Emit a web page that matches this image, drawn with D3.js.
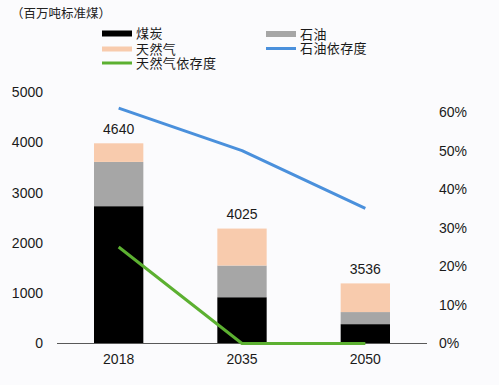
<!DOCTYPE html>
<html><head><meta charset="utf-8">
<script src="https://cdn.jsdelivr.net/npm/d3@7"></script>
<style>
body{margin:0;background:#fbfbfd;}
svg{display:block;}
</style></head>
<body>
<svg id="c" width="499" height="385"></svg>
<script>
const categories = ["2018", "2035", "2050"];
const coal = [2730, 920, 385];
const oil = [880, 630, 240];
const gas = [370, 735, 570];
const totalLabels = ["4640", "4025", "3536"];
const oilDependency = [0.61, 0.50, 0.35];
const gasDependency = [0.25, 0.0, 0.0];
const leftTicks = [0, 1000, 2000, 3000, 4000, 5000];
const rightTicks = [0, 0.1, 0.2, 0.3, 0.4, 0.5, 0.6];

const svg = d3.select("#c");
const numFont = "'Liberation Sans', Arial, sans-serif";
const cjkFont = "'Noto Sans CJK SC', sans-serif";

const x = d3.scaleBand().domain(categories).range([57, 427]).paddingInner(0.6).paddingOuter(0.3);
const yL = d3.scaleLinear().domain([0, 5000]).range([343.5, 92]);
const yR = d3.scaleLinear().domain([0, 0.6]).range([343.5, 112]);

const series = [
  {key: "coal", values: coal, color: "#000000"},
  {key: "oil", values: oil, color: "#a6a6a6"},
  {key: "gas", values: gas, color: "#f8cbad"}
];
const rows = categories.map((c, i) => ({cat: c, coal: coal[i], oil: oil[i], gas: gas[i]}));
const stack = d3.stack().keys(series.map(s => s.key))(rows);

stack.forEach((layer, li) => {
  svg.append("g").attr("fill", series[li].color)
    .selectAll("rect").data(layer).join("rect")
    .attr("x", d => x(d.data.cat))
    .attr("width", x.bandwidth())
    .attr("y", d => yL(d[1]))
    .attr("height", d => yL(d[0]) - yL(d[1]));
});

// total labels
svg.append("g").selectAll("text").data(categories).join("text")
  .attr("x", d => x(d) + x.bandwidth() / 2)
  .attr("y", (d, i) => yL(coal[i] + oil[i] + gas[i]) - 9.5)
  .attr("text-anchor", "middle")
  .attr("font-family", numFont).attr("font-size", 14).attr("fill", "#1a1a1a")
  .text((d, i) => totalLabels[i]);

// x axis baseline
svg.append("line").attr("x1", 57).attr("x2", 427).attr("y1", 343.5).attr("y2", 343.5)
  .attr("stroke", "#595959").attr("stroke-width", 1);

// left axis labels
const gL = svg.append("g").attr("transform", "translate(43,0)")
  .call(d3.axisLeft(yL).tickValues(leftTicks).tickSize(0).tickPadding(0).tickFormat(d3.format("d")));
gL.select(".domain").remove();
gL.selectAll("text").attr("font-family", numFont).attr("font-size", 14).attr("fill", "#1a1a1a");

// right axis labels
const gR = svg.append("g").attr("transform", "translate(439,0)")
  .call(d3.axisRight(yR).tickValues(rightTicks).tickSize(0).tickPadding(0).tickFormat(d3.format(".0%")));
gR.select(".domain").remove();
gR.selectAll("text").attr("font-family", numFont).attr("font-size", 14).attr("fill", "#1a1a1a");

// bottom axis labels
const gB = svg.append("g").attr("transform", "translate(0,343.5)")
  .call(d3.axisBottom(x).tickSize(0).tickPadding(11));
gB.select(".domain").remove();
gB.selectAll("text").attr("font-family", numFont).attr("font-size", 14).attr("fill", "#1a1a1a");

// lines
const cx = d => x(d) + x.bandwidth() / 2;
const line = d3.line().x(d => cx(d.c)).y(d => yR(d.v));
svg.append("path")
  .datum(categories.map((c, i) => ({c, v: oilDependency[i]})))
  .attr("d", line)
  .attr("fill", "none").attr("stroke", "#4a90dc").attr("stroke-width", 3).attr("stroke-linejoin", "round");
svg.append("path")
  .datum(categories.map((c, i) => ({c, v: gasDependency[i]})))
  .attr("d", line)
  .attr("fill", "none").attr("stroke", "#5cb031").attr("stroke-width", 3).attr("stroke-linejoin", "round");

// unit title
svg.append("text").attr("x", 11).attr("y", 17.5)
  .attr("font-family", cjkFont).attr("font-size", 12.5).attr("fill", "#222")
  .text("（百万吨标准煤）");

// legend
const legend = [
  {label: "煤炭", type: "rect", color: "#000000", x: 102, y: 33.5, h: 6},
  {label: "天然气", type: "rect", color: "#f8cbad", x: 102, y: 49, h: 5},
  {label: "天然气依存度", type: "line", color: "#5cb031", x: 102, y: 63},
  {label: "石油", type: "rect", color: "#a6a6a6", x: 266, y: 34, h: 6},
  {label: "石油依存度", type: "line", color: "#4a90dc", x: 266, y: 48.5}
];
const lg = svg.append("g");
legend.forEach(it => {
  if (it.type === "rect") {
    lg.append("rect").attr("x", it.x).attr("y", it.y - it.h / 2).attr("width", 30).attr("height", it.h).attr("fill", it.color);
  } else {
    lg.append("line").attr("x1", it.x).attr("x2", it.x + 30).attr("y1", it.y).attr("y2", it.y)
      .attr("stroke", it.color).attr("stroke-width", 3);
  }
  lg.append("text").attr("x", it.x + 34).attr("y", it.y).attr("dy", "0.36em")
    .attr("font-family", cjkFont).attr("font-size", 13).attr("letter-spacing", 0.4).attr("fill", "#1a1a1a")
    .text(it.label);
});
</script>
</body></html>
